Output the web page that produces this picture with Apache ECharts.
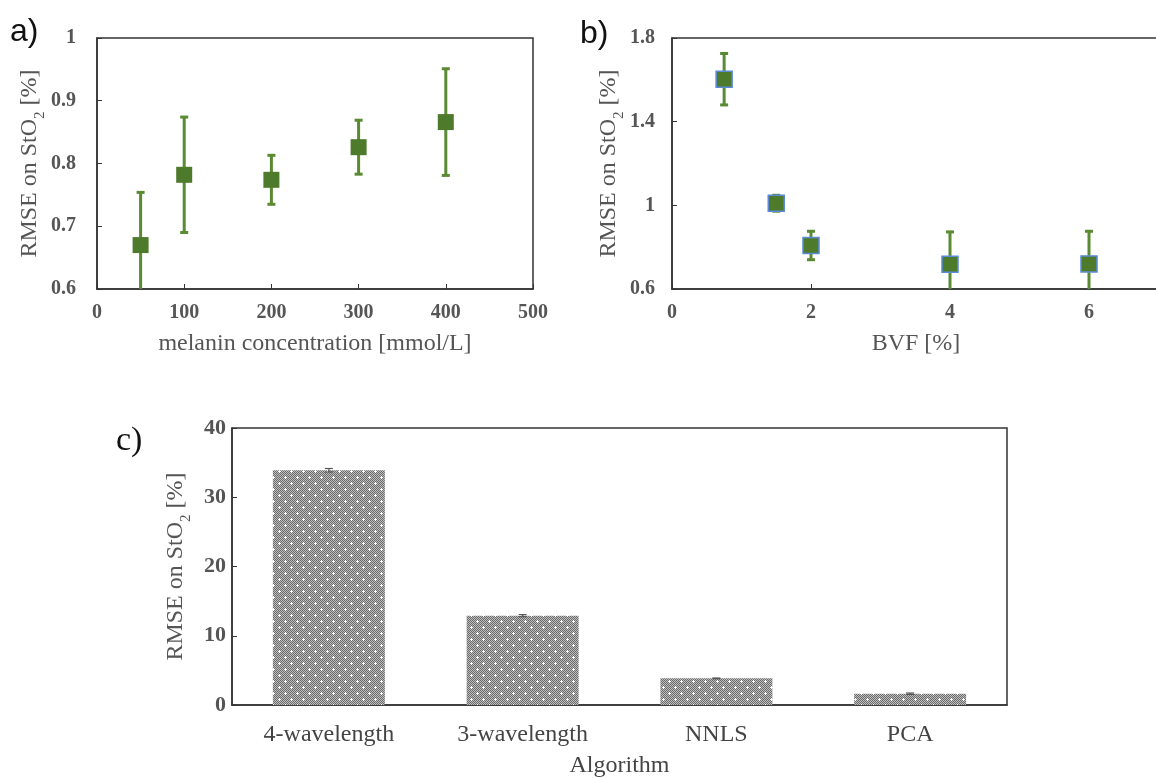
<!DOCTYPE html>
<html>
<head>
<meta charset="utf-8">
<script src="https://cdn.jsdelivr.net/npm/echarts@6/dist/echarts.min.js"></script>
<style>
  html, body { margin: 0; padding: 0; background: #fff; }
  #main { width: 1156px; height: 778px; }
</style>
</head>
<body>
<div id="main"></div>
<script>
// a) melanin concentration
var melanin = [50, 100, 200, 300, 400];
var melaninRmse = [0.670, 0.782, 0.774, 0.826, 0.866];
var melaninErr = [0.084, 0.092, 0.039, 0.043, 0.085];

// b) blood volume fraction
var bvf = [0.75, 1.5, 2, 4, 6];
var bvfRmse = [1.603, 1.010, 0.808, 0.718, 0.720];
var bvfErr = [0.123, 0.038, 0.068, 0.155, 0.156];

// c) algorithms
var algorithms = ['4-wavelength', '3-wavelength', 'NNLS', 'PCA'];
var algoRmse = [33.9, 12.9, 3.85, 1.63];
var algoErr = [0.25, 0.15, 0.05, 0.1];

var serif = '"Liberation Serif", "Times New Roman", serif';
var green = '#4d7a2b';
var barGreen = '#5a8a32';
var textGray = '#555';

// gray checkerboard with white dots, like the bar fill in the figure
function makePattern() {
  var c = document.createElement('canvas');
  c.width = 12; c.height = 12;
  var ctx = c.getContext('2d');
  for (var y = 0; y < 12; y++) {
    for (var x = 0; x < 12; x++) {
      ctx.fillStyle = (x + y) % 2 ? '#bdbdbd' : '#6c6c6c';
      ctx.fillRect(x, y, 1, 1);
    }
  }
  ctx.fillStyle = '#ffffff';
  [[3, 3], [9, 9]].forEach(function (p) {
    ctx.fillRect(p[0], p[1] - 1, 1, 3);
    ctx.fillRect(p[0] - 1, p[1], 3, 1);
  });
  return c;
}

function errData(xs, ys, es) {
  return xs.map(function (x, i) { return [x, ys[i] - es[i], ys[i] + es[i]]; });
}

function errorBars(color, width, cap) {
  return function (params, api) {
    var x = api.value(0);
    var lo = api.coord([x, api.value(1)]);
    var hi = api.coord([x, api.value(2)]);
    var st = { stroke: color, lineWidth: width };
    return {
      type: 'group',
      children: [
        { type: 'line', shape: { x1: lo[0], y1: lo[1], x2: hi[0], y2: hi[1] }, style: st },
        { type: 'line', shape: { x1: hi[0] - cap, y1: hi[1], x2: hi[0] + cap, y2: hi[1] }, style: st },
        { type: 'line', shape: { x1: lo[0] - cap, y1: lo[1], x2: lo[0] + cap, y2: lo[1] }, style: st }
      ]
    };
  };
}

function yName(gap) {
  return {
    name: '{t|RMSE on StO}{s|2}{t| [%]}',
    nameLocation: 'middle',
    nameGap: gap,
    nameTextStyle: {
      rich: {
        t: { fontFamily: serif, fontSize: 24, color: textGray, lineHeight: 28, verticalAlign: 'bottom' },
        s: { fontFamily: serif, fontSize: 15, color: textGray, lineHeight: 28, verticalAlign: 'bottom', padding: [0, 0, -5, 0] }
      }
    }
  };
}

var axisLine = { show: true, lineStyle: { color: '#333', width: 1.5 } };
var tickIn = { show: true, inside: true, length: 5, lineStyle: { color: '#333' } };
var tickLabel = { fontFamily: serif, fontSize: 20, fontWeight: 'bold', color: textGray };

var myChart = echarts.init(document.getElementById('main'));

var option = {
  animation: false,
  backgroundColor: '#fff',
  grid: [
    { left: 97, top: 38, width: 436, height: 251, show: true, borderColor: '#333', borderWidth: 1.5, outerBoundsMode: 'none' },
    { left: 672, top: 38, width: 556, height: 251, show: true, borderColor: '#333', borderWidth: 1.5, outerBoundsMode: 'none' },
    { left: 232, top: 428, width: 775, height: 277, show: true, borderColor: '#333', borderWidth: 1.5, outerBoundsMode: 'none' }
  ],
  xAxis: [
    {
      gridIndex: 0, type: 'value', min: 0, max: 500, interval: 100,
      axisLine: axisLine, axisTick: tickIn, splitLine: { show: false },
      axisLabel: Object.assign({ margin: 14 }, tickLabel),
      name: 'melanin concentration [mmol/L]', nameLocation: 'middle', nameGap: 43,
      nameTextStyle: { fontFamily: serif, fontSize: 24, color: textGray }
    },
    {
      gridIndex: 1, type: 'value', min: 0, max: 8, interval: 2,
      axisLine: axisLine, axisTick: tickIn, splitLine: { show: false },
      axisLabel: Object.assign({ margin: 14 }, tickLabel)
    },
    {
      gridIndex: 2, type: 'category', data: algorithms,
      axisLine: axisLine, axisTick: { show: false }, splitLine: { show: false },
      axisLabel: { margin: 18, fontFamily: serif, fontSize: 24, color: '#444' },
      name: 'Algorithm', nameLocation: 'middle', nameGap: 49,
      nameTextStyle: { fontFamily: serif, fontSize: 24, color: '#444' }
    }
  ],
  yAxis: [
    Object.assign({
      gridIndex: 0, type: 'value', min: 0.6, max: 1, interval: 0.1,
      axisLine: axisLine, axisTick: tickIn, splitLine: { show: false },
      axisLabel: Object.assign({ margin: 21 }, tickLabel)
    }, yName(47)),
    Object.assign({
      gridIndex: 1, type: 'value', min: 0.6, max: 1.8, interval: 0.4,
      axisLine: axisLine, axisTick: tickIn, splitLine: { show: false },
      axisLabel: Object.assign({ margin: 17 }, tickLabel)
    }, yName(48)),
    Object.assign({
      gridIndex: 2, type: 'value', min: 0, max: 40, interval: 10,
      axisLine: axisLine, axisTick: tickIn, splitLine: { show: false },
      axisLabel: Object.assign({ margin: 6 }, tickLabel, { fontSize: 22 })
    }, yName(40))
  ],
  graphic: [
    { type: 'text', left: 10, top: 16, style: { text: 'a)', font: '32px "Liberation Sans", sans-serif', fill: '#111' } },
    { type: 'text', left: 580, top: 18, style: { text: 'b)', font: '32px "Liberation Sans", sans-serif', fill: '#111' } },
    { type: 'text', left: 116, top: 424, style: { text: 'c)', font: '34px ' + serif, fill: '#111' } },
    { type: 'text', x: 916, y: 344, style: { text: 'BVF [%]', font: '24px ' + serif, fill: textGray, align: 'center', verticalAlign: 'middle' } }
  ],
  series: [
    {
      type: 'custom', xAxisIndex: 0, yAxisIndex: 0, clip: true, z: 2,
      renderItem: errorBars(barGreen, 3, 4),
      encode: { x: 0, y: [1, 2] },
      data: errData(melanin, melaninRmse, melaninErr)
    },
    {
      type: 'scatter', xAxisIndex: 0, yAxisIndex: 0, symbol: 'rect', symbolSize: 16, z: 3,
      itemStyle: { color: green, opacity: 1 },
      data: melanin.map(function (x, i) { return [x, melaninRmse[i]]; })
    },
    {
      type: 'custom', xAxisIndex: 1, yAxisIndex: 1, clip: true, z: 2,
      renderItem: errorBars(barGreen, 3, 4),
      encode: { x: 0, y: [1, 2] },
      data: errData(bvf, bvfRmse, bvfErr)
    },
    {
      type: 'scatter', xAxisIndex: 1, yAxisIndex: 1, symbol: 'rect', symbolSize: 16, z: 3,
      itemStyle: { color: green, borderColor: '#5b8ad8', borderWidth: 1.5, opacity: 1 },
      data: bvf.map(function (x, i) { return [x, bvfRmse[i]]; })
    },
    {
      type: 'bar', xAxisIndex: 2, yAxisIndex: 2, barWidth: 112,
      itemStyle: { color: { image: makePattern(), repeat: 'repeat' } },
      data: algoRmse
    },
    {
      type: 'custom', xAxisIndex: 2, yAxisIndex: 2, z: 3,
      renderItem: errorBars('#555', 1.2, 4),
      encode: { x: 0, y: [1, 2] },
      data: algorithms.map(function (a, i) { return [a, algoRmse[i] - algoErr[i], algoRmse[i] + algoErr[i]]; })
    }
  ]
};

myChart.setOption(option);
</script>
</body>
</html>
